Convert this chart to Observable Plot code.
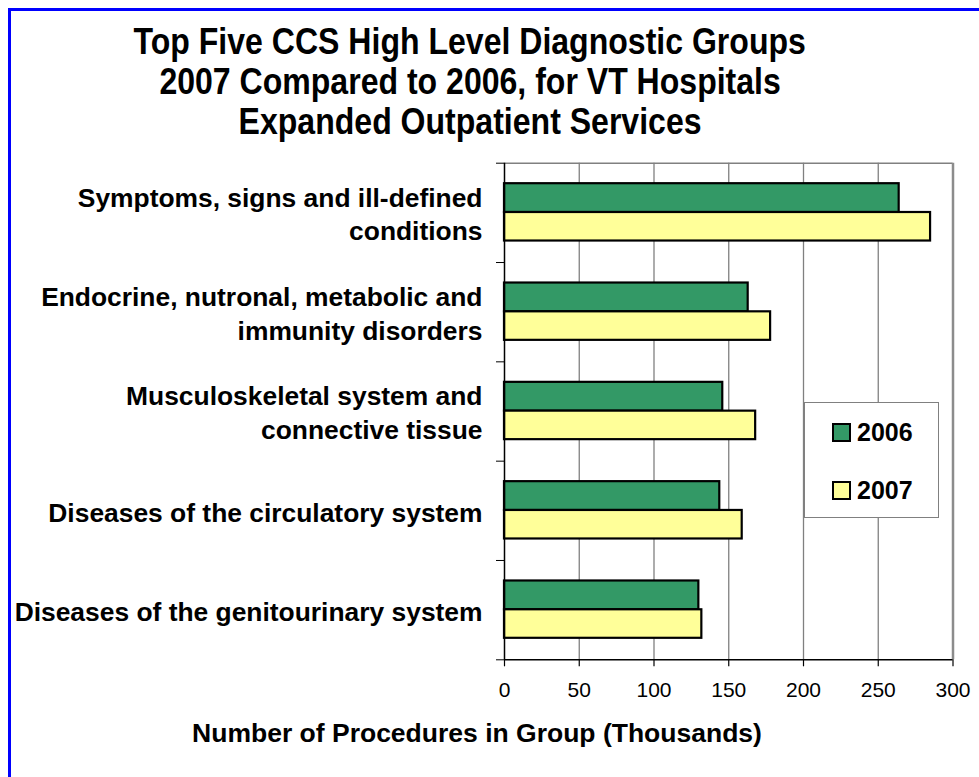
<!DOCTYPE html>
<html>
<head>
<meta charset="utf-8">
<script src="https://cdn.jsdelivr.net/npm/d3@7"></script>
<script src="https://cdn.jsdelivr.net/npm/@observablehq/plot@0.6"></script>
<style>
  html, body { margin: 0; padding: 0; background: #fff; }
  body { font-family: "Liberation Sans", Arial, sans-serif; }
  #wrap { position: relative; width: 979px; height: 777px; overflow: hidden; }
  #border-top { position: absolute; left: 8px; top: 8px; width: 971px; height: 3px; background: #0000ff; }
  #border-left { position: absolute; left: 8px; top: 8px; width: 3px; height: 769px; background: #0000ff; }
  #title { position: absolute; left: 0; top: 22px; width: 940px; text-align: center; font-weight: bold; font-size: 36px; line-height: 40px; color: #000; }
  #title div span { display: inline-block; transform: scaleX(0.89); transform-origin: center; white-space: nowrap; }
  #xtitle { position: absolute; left: 0; top: 718px; width: 954px; text-align: center; font-weight: bold; font-size: 26.5px; line-height: 30px; color: #000; }
  #legend { position: absolute; left: 804px; top: 402px; width: 135px; height: 116px; border: 1px solid #808080; background: #fff; box-sizing: border-box; }
  .lg { position: absolute; left: 27px; height: 30px; display: flex; align-items: center; font-weight: bold; font-size: 25px; }
  .sw { width: 15px; height: 15px; border: 2px solid #000; margin-right: 6px; }
  #chart { position: absolute; left: 0; top: 0; }
</style>
</head>
<body>
<div id="wrap">
  <div id="chart"></div>
  <div id="border-top"></div>
  <div id="border-left"></div>
  <div id="title"></div>
  <div id="xtitle"></div>
  <div id="legend"></div>
</div>
<script>
const titleLines = ["Top Five CCS High Level Diagnostic Groups", "2007 Compared to 2006, for VT Hospitals", "Expanded Outpatient Services"];
const xAxisTitle = "Number of Procedures in Group (Thousands)";
const categories = [
  "Symptoms, signs and ill-defined\nconditions",
  "Endocrine, nutronal, metabolic and\nimmunity disorders",
  "Musculoskeletal system and\nconnective tissue",
  "Diseases of the circulatory system",
  "Diseases of the genitourinary system"
];
const years = ["2006", "2007"];
const values2006 = [264, 163, 146, 144, 130];
const values2007 = [285, 178, 168, 159, 132];
const xTicks = [0, 50, 100, 150, 200, 250, 300];
const colors = ["#339966", "#FFFF99"];

const data = categories.flatMap((cat, i) => [
  {cat, i, year: years[0], value: values2006[i]},
  {cat, i, year: years[1], value: values2007[i]}
]);
const labels = categories.map((cat, i) => ({cat, i}));

const chart = Plot.plot({
  width: 979,
  height: 777,
  marginLeft: 504,
  marginRight: 26.5,
  marginTop: 162.7,
  marginBottom: 117.7,
  style: {fontFamily: "'Liberation Sans', Arial, sans-serif", background: "transparent", color: "#000"},
  x: {domain: [0, 300], label: null},
  y: {domain: [0, categories.length], reverse: true, label: null},
  color: {domain: years, range: colors},
  marks: [
    Plot.ruleX(xTicks.slice(1, -1), {stroke: "#808080", strokeWidth: 1.3}),
    Plot.ruleY([0], {stroke: "#808080", strokeWidth: 1.5}),
    Plot.ruleX([300], {stroke: "#8c8c8c", strokeWidth: 2.5}),
    Plot.rectX(data.filter(d => d.year === years[0]), {
      x1: 0, x2: "value", y1: "i", y2: d => d.i + 1,
      fill: "year", stroke: "#000", strokeWidth: 2.2,
      insetTop: 20.5, insetBottom: 50
    }),
    Plot.rectX(data.filter(d => d.year === years[1]), {
      x1: 0, x2: "value", y1: "i", y2: d => d.i + 1,
      fill: "year", stroke: "#000", strokeWidth: 2.2,
      insetTop: 49.3, insetBottom: 21.5
    }),
    Plot.axisX(xTicks, {tickSize: 7, tickPadding: 15, fontSize: 21, stroke: "#000", strokeWidth: 1.2, label: null}),
    Plot.axisY(d3.range(categories.length + 1), {tickSize: 8, tickFormat: () => "", stroke: "#000", label: null}),
    Plot.ruleX([0], {stroke: "#000", strokeWidth: 1.5}),
    Plot.ruleY([categories.length], {stroke: "#000", strokeWidth: 1.5}),
    Plot.text(labels, {
      x: 0, y: d => d.i + 0.5, text: "cat",
      textAnchor: "end", dx: -22, fontSize: 26.4, fontWeight: "bold",
      lineHeight: 1.27, fill: "#000"
    })
  ]
});
document.getElementById("chart").appendChild(chart);

document.getElementById("title").innerHTML = titleLines.map(t => `<div><span>${t}</span></div>`).join("");
document.getElementById("xtitle").textContent = xAxisTitle;
const legend = document.getElementById("legend");
years.forEach((y, k) => {
  const row = document.createElement("div");
  row.className = "lg";
  row.style.top = (14 + k * 58) + "px";
  row.innerHTML = `<span class="sw" style="background:${colors[k]}"></span><span>${y}</span>`;
  legend.appendChild(row);
});
</script>
</body>
</html>
